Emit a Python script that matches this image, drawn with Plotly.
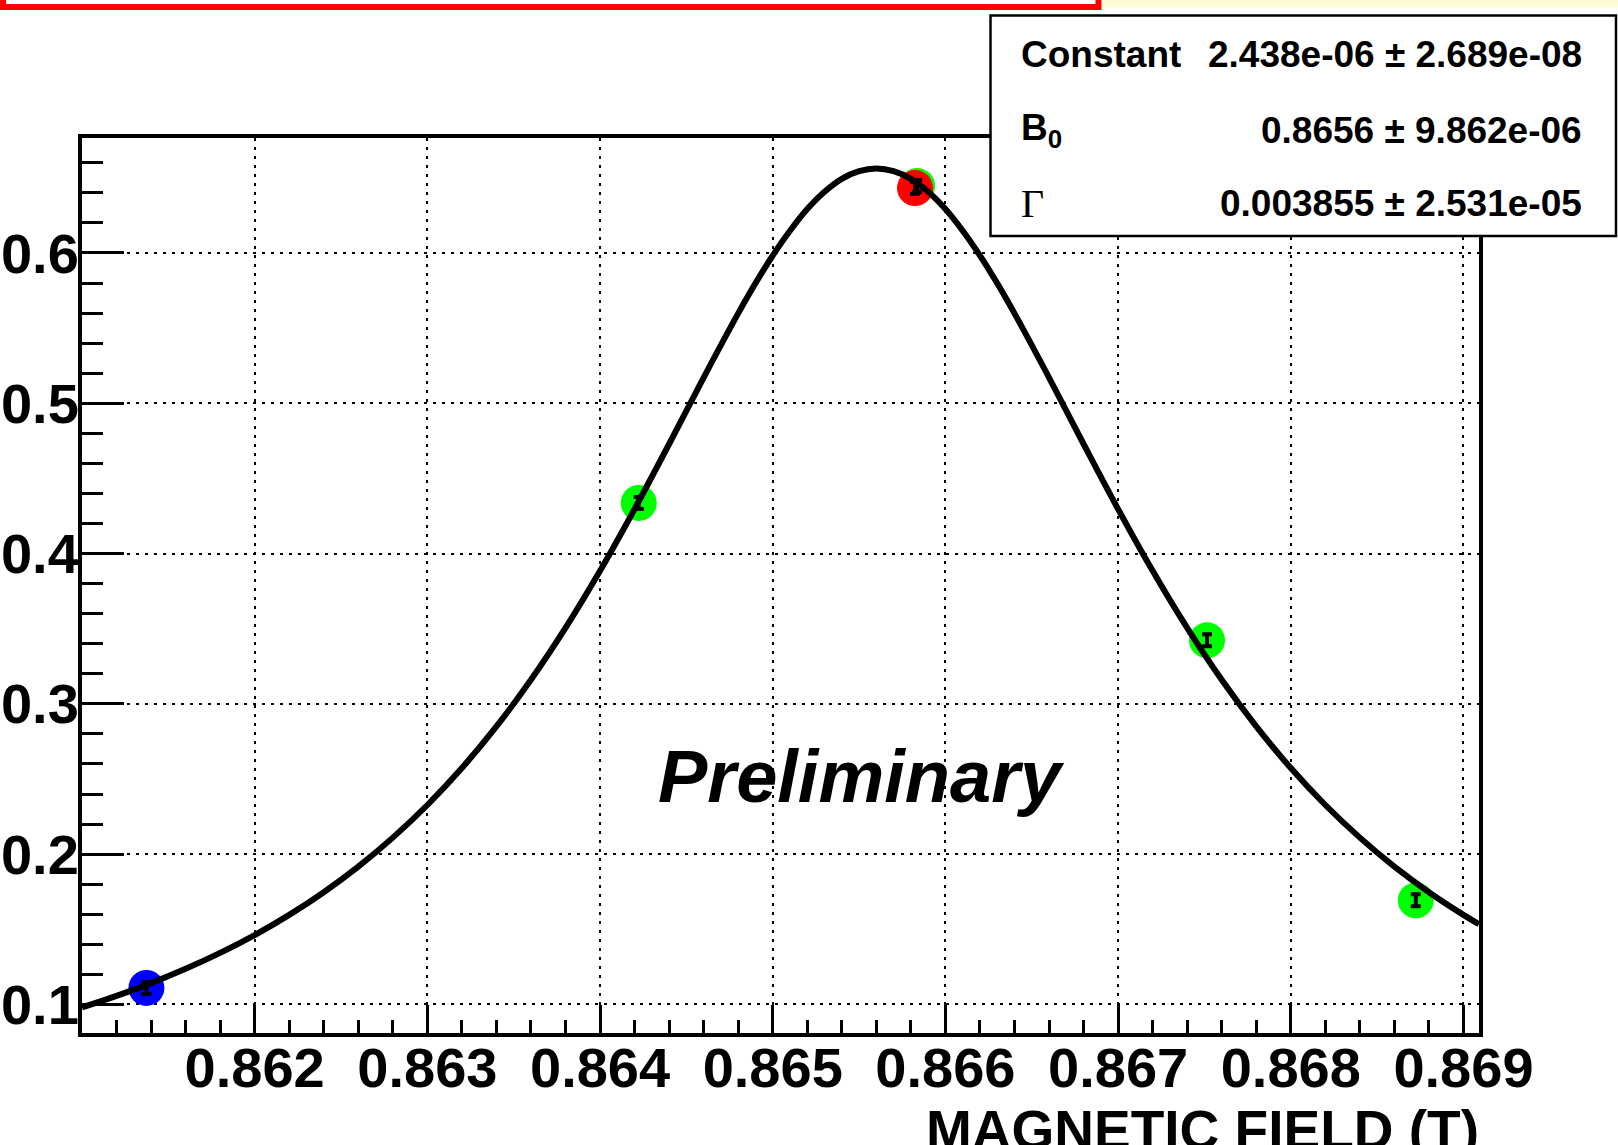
import plotly.graph_objects as go

# ---------------- data ----------------
# measured points (colour-coded)
point_x = [0.861373, 0.864224, 0.865836, 0.865824, 0.867515, 0.868724]
point_y = [0.1110, 0.4337, 0.6445, 0.6432, 0.3423, 0.1693]
point_err = [0.004, 0.004, 0.004, 0.004, 0.004, 0.004]
point_colors = ["#0000ff", "#00ff00", "#00ff00", "#ff0000", "#00ff00", "#00ff00"]

# fitted curve
curve_x = [0.8610, 0.8612, 0.8614, 0.8616, 0.8618, 0.8620, 0.8622, 0.8624, 0.8626,
           0.8628, 0.8630, 0.8632, 0.8634, 0.8636, 0.8638, 0.8640, 0.8642, 0.8644,
           0.8646, 0.8648, 0.8649, 0.8650, 0.8651, 0.8652, 0.8653, 0.8654, 0.8655,
           0.8656, 0.8657, 0.8658, 0.8659, 0.8660, 0.8661, 0.8662, 0.8663,
           0.8664, 0.8666, 0.8668, 0.8670, 0.8672, 0.8674, 0.8676, 0.8678, 0.8680,
           0.8682, 0.8684, 0.8686, 0.8688, 0.8690, 0.86909]
curve_y = [0.0980, 0.1057, 0.1142, 0.1237, 0.1343, 0.1462, 0.1596, 0.1747, 0.1917,
           0.2110, 0.2327, 0.2573, 0.2850, 0.3160, 0.3505, 0.3885, 0.4296, 0.4729,
           0.5171, 0.5598, 0.5798, 0.5983, 0.6148, 0.6292, 0.6407, 0.6493, 0.6544,
           0.6562, 0.6544, 0.6493, 0.6407, 0.6292, 0.6148, 0.5983, 0.5798,
           0.5598, 0.5171, 0.4729, 0.4296, 0.3885, 0.3505, 0.3160, 0.2850, 0.2573,
           0.2327, 0.2110, 0.1917, 0.1747, 0.1596, 0.1534]

x_ticks = [0.862, 0.863, 0.864, 0.865, 0.866, 0.867, 0.868, 0.869]
x_tick_labels = ["0.862", "0.863", "0.864", "0.865", "0.866", "0.867", "0.868", "0.869"]
y_ticks = [0.1, 0.2, 0.3, 0.4, 0.5, 0.6]
y_tick_labels = ["0.1", "0.2", "0.3", "0.4", "0.5", "0.6"]

x_range = [0.861, 0.86909]
y_range = [0.081, 0.6765]

stat_labels = ["Constant", "B<sub>0</sub>", "Γ"]
stat_values = ["2.438e-06 ± 2.689e-08", "0.8656 ± 9.862e-06", "0.003855 ± 2.531e-05"]

x_title = "MAGNETIC FIELD (T)"
watermark = "Preliminary"

# ---------------- layout geometry ----------------
W, H = 1618, 1145
L, R, T, B = 82, 1479, 138, 1033


def px_x(px):
    return (px - L) / (R - L)


def px_y(py):
    return (B - py) / (B - T)


FONT = "Liberation Sans, Arial, Helvetica, sans-serif"

fig = go.Figure()

fig.add_trace(go.Scatter(
    x=point_x, y=point_y, mode="markers",
    marker=dict(size=36, color=point_colors, line=dict(width=0)),
    hoverinfo="skip", showlegend=False,
))
fig.add_trace(go.Scatter(
    x=curve_x, y=curve_y, mode="lines",
    line=dict(color="black", width=6, shape="spline", smoothing=1.0),
    hoverinfo="skip", showlegend=False,
))
fig.add_trace(go.Scatter(
    x=point_x, y=point_y, mode="markers",
    marker=dict(size=2, color="rgba(0,0,0,0)"),
    error_y=dict(type="data", array=point_err, color="black", thickness=4, width=5),
    hoverinfo="skip", showlegend=False,
))

axis_common = dict(
    showline=True, linecolor="black", linewidth=4, mirror=True,
    showgrid=True, gridcolor="black", gridwidth=2, griddash="3px,6px",
    zeroline=False, ticks="inside", tickcolor="black", tickwidth=2.5,
    tickmode="array", automargin=False,
    tickfont=dict(family=FONT, size=56, color="black", weight="bold"),
)

fig.update_xaxes(
    range=x_range, tickvals=x_ticks, ticktext=x_tick_labels, ticklen=28,
    minor=dict(tickmode="linear", tick0=0.861, dtick=0.0002, ticks="inside",
               ticklen=13, tickwidth=2.5, tickcolor="black", showgrid=False),
    ticklabelstandoff=-17,
    **axis_common,
)
fig.update_yaxes(
    range=y_range, tickvals=y_ticks, ticktext=y_tick_labels, ticklen=42,
    minor=dict(tickmode="linear", tick0=0.0, dtick=0.02, ticks="inside",
               ticklen=21, tickwidth=2.5, tickcolor="black", showgrid=False),
    ticklabelstandoff=-12,
    **axis_common,
)

shapes = [
    # cut-off title box (red frame) at top left
    dict(type="rect", xref="paper", yref="paper",
         x0=px_x(3), x1=px_x(1098.5), y0=px_y(7), y1=px_y(-30),
         line=dict(color="#ff0000", width=6), fillcolor="white", layer="above"),
    # pale yellow strip at top right
    dict(type="rect", xref="paper", yref="paper",
         x0=px_x(1102), x1=px_x(1630), y0=px_y(7.3), y1=px_y(-10),
         line=dict(width=0), fillcolor="#fffcd4", layer="above"),
    # statistics box
    dict(type="rect", xref="paper", yref="paper",
         x0=px_x(990.5), x1=px_x(1616), y0=px_y(236), y1=px_y(15.5),
         line=dict(color="black", width=2.5), fillcolor="white", layer="above"),
]

annotations = []
row_centers = [53, 128.5, 201.5]
for i, (lab, val) in enumerate(zip(stat_labels, stat_values)):
    yc = row_centers[i]
    if lab == "Γ":
        lab_font = dict(family="Liberation Serif, Times New Roman, serif", size=40, color="black")
    else:
        lab_font = dict(family=FONT, size=37, color="black", weight="bold")
    annotations.append(dict(
        xref="paper", yref="paper", x=px_x(1019), y=px_y(yc + 2),
        xanchor="left", yanchor="middle", text=lab, showarrow=False, font=lab_font,
    ))
    annotations.append(dict(
        xref="paper", yref="paper", x=px_x(1584), y=px_y(yc + 2),
        xanchor="right", yanchor="middle", text=val, showarrow=False,
        font=dict(family=FONT, size=37, color="black", weight="bold"),
    ))

annotations.append(dict(
    xref="paper", yref="paper", x=px_x(861), y=px_y(776),
    xanchor="center", yanchor="middle", text=watermark, showarrow=False,
    font=dict(family=FONT, size=74, color="black", weight="bold", style="italic"),
))
annotations.append(dict(
    xref="paper", yref="paper", x=px_x(1481), y=px_y(1130),
    xanchor="right", yanchor="middle", text=x_title, showarrow=False,
    font=dict(family=FONT, size=55, color="black", weight="bold"),
))

fig.update_layout(
    width=W, height=H,
    margin=dict(l=L, r=W - R, t=T, b=H - B, pad=0),
    paper_bgcolor="white", plot_bgcolor="white",
    shapes=shapes, annotations=annotations,
    showlegend=False,
)

fig.write_html("out.html", include_plotlyjs=True, full_html=True,
               config={"displayModeBar": False})
